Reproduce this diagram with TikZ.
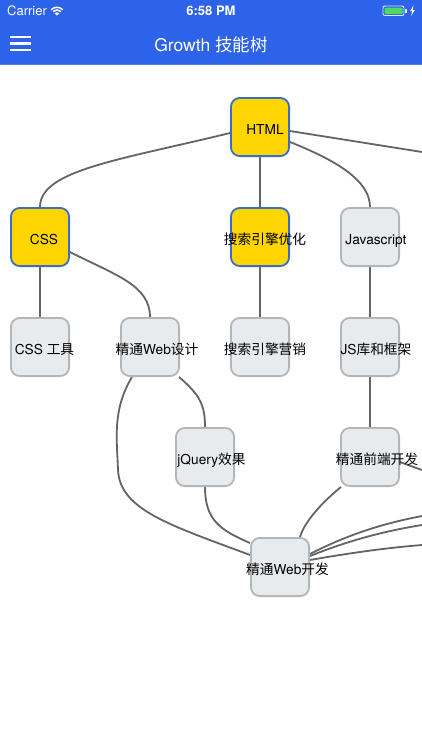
\documentclass[tikz,border=0pt]{standalone}
\usepackage{fontspec}
\setmainfont{TeX Gyre Heros}
\newfontfamily\cjk{Noto Sans CJK SC}
\usetikzlibrary{backgrounds}
\definecolor{headblue}{RGB}{45,99,233}
\definecolor{headline}{RGB}{80,128,240}
\definecolor{nodeyellow}{RGB}{255,213,0}
\definecolor{nodeblue}{RGB}{59,108,200}
\definecolor{nodegray}{RGB}{231,235,237}
\definecolor{nodeborder}{RGB}{176,182,186}
\definecolor{edgegray}{RGB}{100,100,100}
\definecolor{battgreen}{RGB}{76,217,100}
\begin{document}
\begin{tikzpicture}[x=1pt,y=-1pt,
  box/.style={draw, rounded corners=9pt, minimum size=58.2pt, line width=1.8pt, inner sep=0pt},
  hot/.style={box, fill=nodeyellow, draw=nodeblue},
  cold/.style={box, fill=nodegray, draw=nodeborder},
  lbl/.style={anchor=base, font=\fontsize{13.7}{16}\selectfont, inner sep=0pt},
  edge/.style={draw=edgegray, line width=1.8pt},
  bartext/.style={text=white, inner sep=0pt, anchor=base},
  icon/.style={draw=white, line width=2.2pt}]
\useasboundingbox (0,0) rectangle (422,750);

% header
\fill[headblue] (0,0) rectangle (422,65);
\draw[headline, line width=1pt] (0,64.5) -- (422,64.5);
\node[bartext, anchor=base west, font=\fontsize{13}{15}\selectfont] (carrier) at (7,15.5) {Carrier};
\fill[white] (57,15.5) -- ++(225:3.2) arc (225:315:3.2) -- cycle;
\draw[white, line width=1.5pt] ([shift={(225:5.6)}]57,15.5) arc (225:315:5.6);
\draw[white, line width=1.5pt] ([shift={(225:8.2)}]57,15.5) arc (225:315:8.2);
\node[bartext, font=\bfseries\fontsize{13}{15}\selectfont] (time) at (211,15.5) {6:58 PM};
\draw[white!85!headblue, line width=0.9pt, rounded corners=2pt] (383,6) rectangle (404,15.5);
\fill[battgreen, rounded corners=1pt] (384.5,7.5) rectangle (402.5,14);
\fill[white!85!headblue] (405,9) rectangle (406.5,12.5);
\fill[white] (413.5,5.5) -- (410,11.2) -- (412.2,11.2) -- (411.2,16) -- (414.8,10) -- (412.6,10) -- cycle;
\draw[icon] (10,37) -- (31,37);
\draw[icon] (10,43.5) -- (31,43.5);
\draw[icon] (10,50) -- (31,50);
\node[bartext, font=\fontsize{17.5}{20}\selectfont] (title) at (211,51) {Growth {\cjk 技能树}};

% nodes
\node[hot] (html) at (260,127) {};
\node[hot] (css) at (40,237) {};
\node[hot] (seo) at (260,237) {};
\node[cold] (js) at (370,237) {};
\node[cold] (csstool) at (40,347) {};
\node[cold] (webdesign) at (150,347) {};
\node[cold] (sem) at (260,347) {};
\node[cold] (jslib) at (370,347) {};
\node[cold] (jquery) at (205,457) {};
\node[cold] (frontend) at (370,457) {};
\node[cold] (webdev) at (280,567) {};

\node[lbl] (html-t) at ([xshift=5pt,yshift=-7pt]html.center) {HTML};
\node[lbl] (css-t) at ([xshift=4pt,yshift=-7pt]css.center) {CSS};
\node[lbl] (seo-t) at ([xshift=5pt,yshift=-7pt]seo.center) {\cjk 搜索引擎优化};
\node[lbl] (js-t) at ([xshift=6pt,yshift=-7pt]js.center) {Javascript};
\node[lbl] (csstool-t) at ([xshift=4.5pt,yshift=-7pt]csstool.center) {CSS {\cjk 工具}};
\node[lbl] (webdesign-t) at ([xshift=7pt,yshift=-7pt]webdesign.center) {{\cjk 精通}Web{\cjk 设计}};
\node[lbl] (sem-t) at ([xshift=5pt,yshift=-7pt]sem.center) {\cjk 搜索引擎营销};
\node[lbl] (jslib-t) at ([xshift=6pt,yshift=-7pt]jslib.center) {JS{\cjk 库和框架}};
\node[lbl] (jquery-t) at ([xshift=6.5pt,yshift=-7pt]jquery.center) {jQuery{\cjk 效果}};
\node[lbl] (frontend-t) at ([xshift=7pt,yshift=-7pt]frontend.center) {\cjk 精通前端开发};
\node[lbl] (webdev-t) at ([xshift=7.5pt,yshift=-7pt]webdev.center) {{\cjk 精通}Web{\cjk 开发}};

\coordinate (out1) at (422,152);
\coordinate (out2) at (422,470);
\coordinate (out3) at (422,516);
\coordinate (out4) at (422,525);
\coordinate (out5) at (422,545);

\begin{scope}[on background layer]
\fill[white] (0,65) rectangle (422,750);
\draw[edge] ([yshift=-6pt]html.west) .. controls (120,160) and (40,170) .. (css.north);
\draw[edge] (html.south) -- (seo.north);
\draw[edge] ([yshift=-15pt]html.east) .. controls (335,160) and (370,180) .. (js.north);
\draw[edge] ([yshift=-4pt]html.east) -- (out1);
\draw[edge] (css.south) -- (csstool.north);
\draw[edge] ([yshift=-15pt]css.east) .. controls (115,275) and (150,285) .. (webdesign.north);
\draw[edge] (seo.south) -- (sem.north);
\draw[edge] (js.south) -- (jslib.north);
\draw[edge] (jslib.south) -- (frontend.north);
\draw[edge] ([xshift=29pt]webdesign.south) .. controls (200,395) and (205,405) .. (jquery.north);
\draw[edge] ([xshift=-18pt]webdesign.south) .. controls (112,410) and (117,440) .. (118,470) .. controls (120,510) and (170,525) .. ([yshift=12pt]webdev.west);
\draw[edge] (jquery.south) .. controls (205,520) and (220,530) .. ([yshift=24pt]webdev.west);
\draw[edge] ([xshift=-29pt]frontend.south) .. controls (325,500) and (305,520) .. ([xshift=20pt]webdev.north);
\draw[edge] ([yshift=-5pt]frontend.east) -- (out2);
\draw[edge] ([yshift=13pt]webdev.east) .. controls (345,536) and (380,524) .. (out3);
\draw[edge] ([yshift=11pt]webdev.east) .. controls (350,540) and (385,531) .. (out4);
\draw[edge] ([yshift=7pt]webdev.east) .. controls (350,553) and (385,548) .. (out5);
\end{scope}
\end{tikzpicture}
\end{document}
